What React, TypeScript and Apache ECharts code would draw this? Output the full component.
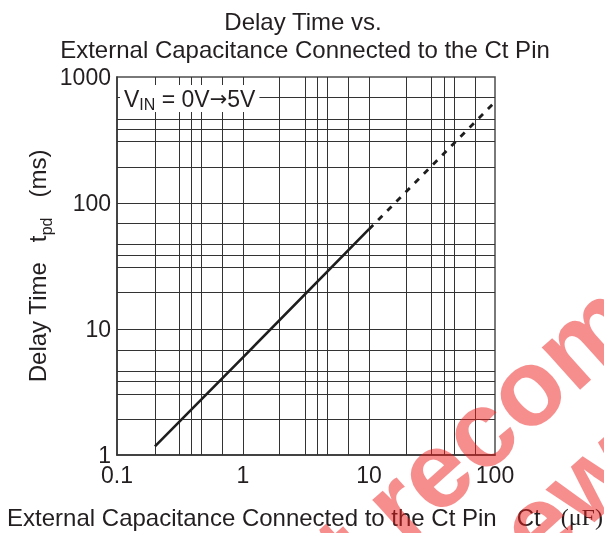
import React, { useEffect, useRef } from "react";
import * as echarts from "echarts";

const xTickLabels = ["0.1", "1", "10", "100"];
const yTickLabels = ["1", "10", "100", "1000"];
const xGridValues = [0.2, 0.31, 0.39, 0.47, 0.69, 1, 1.95, 3.1, 3.9, 4.7, 6.85, 10, 19.8, 31, 39.5, 47.5, 70];
const yGridValues = [1.92, 3.03, 3.87, 4.6, 6.8, 10, 19.4, 31, 38.6, 47, 69, 100, 193, 309, 384, 461, 692];
const solidCurve = [[0.2, 1.17], [1, 5.95], [10, 62]];
const dashedCurve = [[10, 62], [96, 608]];

const FONT = "'Liberation Sans', Arial, Helvetica, sans-serif";
const INK = "#231f20";

export default function App() {
  const ref = useRef<HTMLDivElement>(null);
  useEffect(() => {
    const chart = echarts.init(ref.current!, null, { renderer: "svg" });
    const deg = (d: number) => (d * Math.PI) / 180;
    const wmStyle = {
      fontSize: 108, fontWeight: "bold", fontFamily: FONT,
      fill: "rgba(240,30,30,0.5)", align: "left", verticalAlign: "bottom",
    };
    const option: any = {
      animation: false,
      grid: {
        left: 117, top: 77, width: 378, height: 378,
        show: true, borderColor: "#4d4d4d", borderWidth: 1.5, backgroundColor: "transparent",
      },
      xAxis: {
        type: "log", logBase: 10, min: 0.1, max: 100,
        axisLine: { show: true, lineStyle: { color: "#333", width: 1.5 } },
        axisTick: { show: false },
        splitLine: { show: false },
        axisLabel: {
          fontSize: 23, color: INK, fontFamily: FONT, margin: 8,
          formatter: (v: number) => xTickLabels[Math.round(Math.log10(v)) + 1] ?? "",
        },
      },
      yAxis: {
        type: "log", logBase: 10, min: 1, max: 1000,
        axisLine: { show: true, lineStyle: { color: "#333", width: 1.5 } },
        axisTick: { show: false },
        splitLine: { show: false },
        axisLabel: {
          fontSize: 23, color: INK, fontFamily: FONT, margin: 6,
          formatter: (v: number) => yTickLabels[Math.round(Math.log10(v))] ?? "",
        },
      },
      series: [
        {
          type: "line",
          data: solidCurve,
          showSymbol: false,
          symbol: "none",
          lineStyle: { color: "#1e1e1e", width: 2.6 },
          z: 5,
          markLine: {
            silent: true,
            symbol: ["none", "none"],
            label: { show: false },
            lineStyle: { color: "#333", width: 1, type: "solid" },
            z: 2,
            data: [
              ...xGridValues.map((v) => ({ xAxis: v })),
              ...yGridValues.map((v) => ({ yAxis: v })),
            ],
          },
        },
        {
          type: "line",
          data: dashedCurve,
          showSymbol: false,
          symbol: "none",
          lineStyle: { color: "#1e1e1e", width: 2.8, type: [6, 7] },
          z: 5,
        },
      ],
      graphic: [
        {
          type: "text", x: 303, y: 21, z: 50,
          style: { text: "Delay Time vs.", fontSize: 24, fontFamily: FONT, fill: INK, align: "center", verticalAlign: "middle" },
        },
        {
          type: "text", x: 305, y: 49, z: 50,
          style: { text: "External Capacitance Connected to the Ct Pin", fontSize: 24, fontFamily: FONT, fill: INK, align: "center", verticalAlign: "middle" },
        },
        {
          type: "text", x: 305, y: 517, z: 50,
          style: {
            text: "{a|External Capacitance Connected to the Ct Pin   Ct   }{b|(μF)}",
            align: "center", verticalAlign: "middle",
            rich: {
              a: { fontSize: 24, fontFamily: FONT, fill: INK, color: INK },
              b: { fontSize: 24, fontFamily: "'Liberation Serif', 'Times New Roman', serif", fill: INK, color: INK },
            },
          },
        },
        {
          type: "text", x: 37, y: 266, rotation: Math.PI / 2, z: 50,
          style: {
            text: "{a|Delay Time   t}{s|pd}{a|   (ms)}",
            align: "center", verticalAlign: "middle",
            rich: {
              a: { fontSize: 24, fontFamily: FONT, fill: INK, color: INK, lineHeight: 34, verticalAlign: "middle" },
              s: { fontSize: 16, fontFamily: FONT, fill: INK, color: INK, lineHeight: 16, verticalAlign: "bottom" },
            },
          },
        },
        {
          type: "text", x: 120, y: 85, z: 60,
          style: {
            text: "{a|V}{s|IN}{a| = 0V}{r|→}{a|5V}",
            backgroundColor: "#ffffff",
            padding: [0, 4, 0, 4],
            rich: {
              a: { fontSize: 23, fontFamily: FONT, fill: INK, color: INK, lineHeight: 27, verticalAlign: "middle" },
              r: { fontSize: 21, fontFamily: "'DejaVu Sans', sans-serif", fill: INK, color: INK, lineHeight: 27, verticalAlign: "middle" },
              s: { fontSize: 16, fontFamily: FONT, fill: INK, color: INK, lineHeight: 14, verticalAlign: "bottom" },
            },
          },
        },
        {
          type: "text", x: 260, y: 700, rotation: deg(42), z: 80,
          style: { ...wmStyle, text: "Not recommended" },
        },
        {
          type: "text", x: 372, y: 745, rotation: deg(42), z: 80,
          style: { ...wmStyle, text: "for new design" },
        },
      ],
    };
    chart.setOption(option);
    return () => chart.dispose();
  }, []);
  return <div ref={ref} style={{ position: "fixed", left: 0, top: 0, width: 604, height: 533 }} />;
}
